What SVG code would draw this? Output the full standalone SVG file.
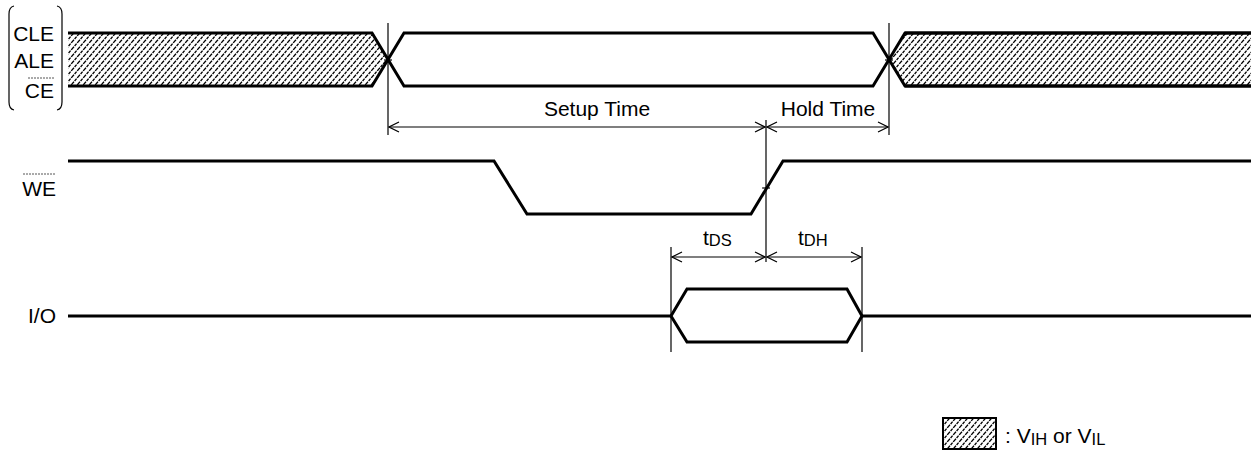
<svg xmlns="http://www.w3.org/2000/svg" width="1251" height="453" viewBox="0 0 1251 453">
<style>
.sig{fill:none;stroke:#000;stroke-width:3;stroke-linejoin:miter}
.thin{fill:none;stroke:#000;stroke-width:1.2}
.dim{fill:none;stroke:#000;stroke-width:1.2;marker-start:url(#arr);marker-end:url(#arr)}
.ovl{fill:none;stroke:#555;stroke-width:1;stroke-dasharray:2 1}
text{font-family:"Liberation Sans",Arial,sans-serif;font-size:21px;fill:#000}
.sub{font-size:16.5px}
</style>
<defs>
<pattern id="hatch" patternUnits="userSpaceOnUse" width="6" height="7">
<path d="M0,7 L6,0 M-1,1.17 L1,-1.17 M5,8.17 L7,5.83" stroke="#000" stroke-width="1.3" stroke-dasharray="3 1"/>
</pattern>
<marker id="arr" viewBox="-11 -6 12 12" refX="0" refY="0" markerWidth="12" markerHeight="12" markerUnits="userSpaceOnUse" orient="auto-start-reverse">
<path d="M-10,-5 L0,0 L-10,5" fill="none" stroke="#000" stroke-width="1.2"/>
</marker>
</defs>
<g id="labels">
<path class="thin" d="M14,6 Q9,7 9,14 L9,102 Q9,109 14,110"/>
<path class="thin" d="M57,6 Q62,7 62,14 L62,102 Q62,109 57,110"/>
<text x="54" y="41" text-anchor="end">CLE</text>
<text x="54" y="68" text-anchor="end">ALE</text>
<line class="ovl" x1="28" y1="78" x2="54" y2="78"/>
<text x="54" y="98" text-anchor="end">CE</text>
<line class="ovl" x1="23" y1="174" x2="56" y2="174"/>
<text x="56" y="196" text-anchor="end">WE</text>
<text x="56" y="323" text-anchor="end">I/O</text>
</g>
<g id="ctrl-signal">
<path d="M68,33 L372,33 L388,60 L372,86 L68,86 Z" fill="url(#hatch)" stroke="none"/>
<path class="sig" d="M68,33 L372,33 L404,86 L873,86 L905,33 L1251,33"/>
<path class="sig" d="M68,86 L372,86 L404,33 L873,33 L905,86 L1251,86"/>
<path d="M905,33 L1251,33 L1251,86 L905,86 L889,60 Z" fill="url(#hatch)" stroke="none"/>
<path class="sig" d="M905,33 L1251,33 M905,86 L1251,86"/>
<line class="thin" x1="384" y1="60" x2="392" y2="60"/>
<line class="thin" x1="885" y1="60" x2="893" y2="60"/>
</g>
<g id="we-signal">
<polyline class="sig" points="68,161 494,161 527,214 751,214 783,161 1251,161"/>
<line class="thin" x1="762" y1="188" x2="770" y2="188"/>
</g>
<g id="io-signal">
<line class="sig" x1="68" y1="316" x2="671" y2="316"/>
<path class="sig" d="M671,316 L687,289 L847,289 L862,316 L847,342 L687,342 Z"/>
<line class="sig" x1="862" y1="316" x2="1251" y2="316"/>
</g>
<g id="connectors">
<line class="thin" x1="388" y1="23" x2="388" y2="135"/>
<line class="thin" x1="889" y1="23" x2="889" y2="135"/>
<line class="thin" x1="766" y1="120" x2="766" y2="262"/>
<line class="thin" x1="671" y1="247" x2="671" y2="352"/>
<line class="thin" x1="862" y1="247" x2="862" y2="352"/>
<line class="dim" x1="389" y1="127" x2="765" y2="127"/>
<line class="dim" x1="767" y1="127" x2="888" y2="127"/>
<line class="dim" x1="672" y1="257" x2="765" y2="257"/>
<line class="dim" x1="767" y1="257" x2="861" y2="257"/>
</g>
<g id="timing-labels">
<text x="597" y="116" text-anchor="middle">Setup Time</text>
<text x="828" y="116" text-anchor="middle">Hold Time</text>
<text x="703" y="245">t<tspan class="sub" dy="1">DS</tspan></text>
<text x="798" y="245">t<tspan class="sub" dy="1">DH</tspan></text>
</g>
<g id="legend">
<rect x="943" y="418" width="53" height="31" fill="url(#hatch)" stroke="#000" stroke-width="2"/>
<text x="1005" y="443">: V<tspan class="sub" dy="2">IH</tspan><tspan dy="-2"> or V</tspan><tspan class="sub" dy="2">IL</tspan></text>
</g>
</svg>
